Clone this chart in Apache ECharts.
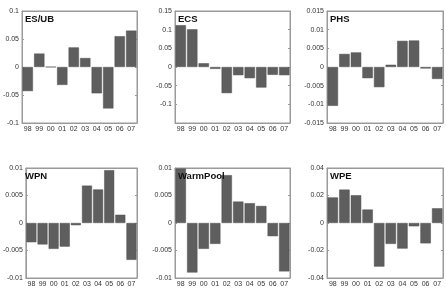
<!DOCTYPE html>
<html>
<head>
<meta charset="utf-8">
<script src="https://cdn.jsdelivr.net/npm/echarts@6/dist/echarts.min.js"></script>
<style>html,body{margin:0;padding:0;background:#fff}#c{width:446px;height:288px}</style>
</head>
<body>
<div id="c"></div>
<script>
const years = ['98','99','00','01','02','03','04','05','06','07'];
const panelNames = ['ES/UB','ECS','PHS','WPN','WarmPool','WPE'];
const esub = [-0.043, 0.024, 0, -0.032, 0.035, 0.016, -0.047, -0.074, 0.055, 0.065];
const ecs = [0.112, 0.101, 0.010, -0.005, -0.070, -0.022, -0.030, -0.055, -0.021, -0.022];
const phs = [-0.0104, 0.0035, 0.0039, -0.0030, -0.0054, 0.0006, 0.0070, 0.0071, -0.0004, -0.0032];
const wpn = [-0.0035, -0.0039, -0.0047, -0.0043, -0.0004, 0.0068, 0.0061, 0.0096, 0.0015, -0.0067];
const warmPool = [0.0099, -0.0090, -0.0047, -0.0038, 0.0087, 0.0039, 0.0036, 0.0031, -0.0024, -0.0088];
const wpe = [0.0186, 0.0243, 0.0202, 0.0098, -0.0317, -0.0152, -0.0186, -0.0024, -0.0148, 0.0107];
const yMax = [0.1, 0.15, 0.015, 0.01, 0.01, 0.04];
const yStep = [0.05, 0.05, 0.005, 0.005, 0.005, 0.02];
const hiddenLabels = [[], [-0.15], [], [], [], []];

const seriesData = [esub, ecs, phs, wpn, warmPool, wpe];

const lefts = [22, 175, 327];
const widths = [115, 115, 116];
const tops = [11, 168];
const heights = [112, 111];

const grids = [], xAxes = [], yAxes = [], series = [], titles = [];
const boxColor = '#9a9a9a';
const labelColor = '#333';
for (let i = 0; i < 6; i++) {
  const col = i % 3, row = Math.floor(i / 3);
  grids.push({left: lefts[col], top: tops[row], width: widths[col], height: heights[row],
    show: true, borderColor: boxColor, borderWidth: 1, backgroundColor: '#fff'});
  xAxes.push({type: 'category', gridIndex: i, data: years, position: 'bottom',
    axisLine: {onZero: false, lineStyle: {color: boxColor}},
    axisTick: {inside: true, alignWithLabel: true, length: 2, lineStyle: {color: boxColor}},
    axisLabel: {fontSize: 7, color: labelColor, margin: 3, interval: 0, fontFamily: 'Liberation Sans'}});
  xAxes.push({type: 'category', gridIndex: i, data: years, position: 'top',
    axisLine: {onZero: false, lineStyle: {color: boxColor}},
    axisTick: {inside: true, alignWithLabel: true, length: 2, lineStyle: {color: boxColor}},
    axisLabel: {show: false}});
  const hid = hiddenLabels[i];
  yAxes.push({type: 'value', gridIndex: i, min: -yMax[i], max: yMax[i], interval: yStep[i],
    splitLine: {show: false},
    axisLine: {show: true, lineStyle: {color: boxColor}},
    axisTick: {show: true, inside: true, length: 2, lineStyle: {color: boxColor}},
    axisLabel: {fontSize: 7, color: labelColor, margin: 3, fontFamily: 'Liberation Sans',
      formatter: v => hid.some(h => Math.abs(h - v) < 1e-9) ? '' : String(parseFloat(v.toPrecision(6)))}});
  yAxes.push({type: 'value', gridIndex: i, min: -yMax[i], max: yMax[i], interval: yStep[i],
    position: 'right', splitLine: {show: false},
    axisLine: {show: true, lineStyle: {color: boxColor}},
    axisTick: {show: true, inside: true, length: 2, lineStyle: {color: boxColor}},
    axisLabel: {show: false}});
  series.push({type: 'bar', xAxisIndex: 2 * i, yAxisIndex: 2 * i, data: seriesData[i],
    barCategoryGap: '10%', itemStyle: {color: '#5e5e5e', borderColor: '#505050', borderWidth: 0.5},
    silent: true, animation: false});
  titles.push({text: panelNames[i], left: lefts[col] + 3, top: tops[row] + 3,
    textStyle: {fontSize: 9.5, fontWeight: 'bold', color: '#111', fontFamily: 'Liberation Sans'}, padding: 0});
}

const chart = echarts.init(document.getElementById('c'), null, {renderer: 'canvas'});
chart.setOption({backgroundColor: '#fff', animation: false, title: titles,
  grid: grids, xAxis: xAxes, yAxis: yAxes, series: series});
</script>
</body>
</html>
